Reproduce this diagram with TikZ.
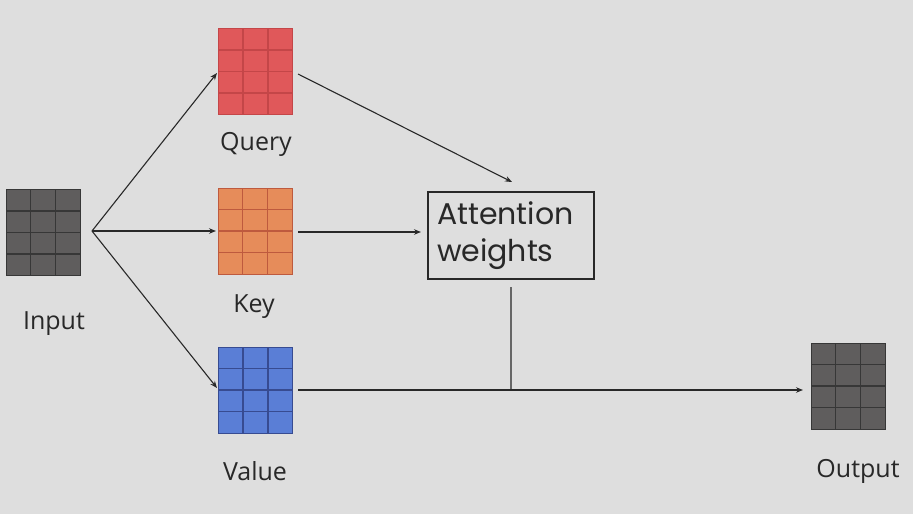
\documentclass[tikz,border=0pt]{standalone}
\usepackage{fontspec}
\setmainfont{Open Sans}
\newfontfamily\boxfont{Poppins}
\usetikzlibrary{calc,arrows.meta}
\definecolor{bg}{RGB}{222,222,222}
\definecolor{txt}{RGB}{40,40,40}
\definecolor{qfill}{RGB}{224,88,90}
\definecolor{qline}{RGB}{196,70,72}
\definecolor{kfill}{RGB}{230,140,90}
\definecolor{kline}{RGB}{190,90,62}
\definecolor{vfill}{RGB}{90,126,214}
\definecolor{vline}{RGB}{55,75,145}
\definecolor{gfill}{RGB}{95,93,93}
\definecolor{gline}{RGB}{55,55,55}
\tikzset{
  mat/.style 2 args={fill=#1, draw=#2, line width=0.8pt, minimum width=74pt, minimum height=86pt, inner sep=0pt,
    path picture={
      \foreach \f in {0.333,0.667}
        \draw[#2, line width=1.3pt] ($(path picture bounding box.north west)!\f!(path picture bounding box.north east)$) -- ($(path picture bounding box.south west)!\f!(path picture bounding box.south east)$);
      \foreach \f in {0.25,0.5,0.75}
        \draw[#2, line width=1.3pt] ($(path picture bounding box.north west)!\f!(path picture bounding box.south west)$) -- ($(path picture bounding box.north east)!\f!(path picture bounding box.south east)$);
    }},
  lbl/.style={text=txt, font=\fontsize{25}{30}\selectfont, inner sep=0pt},
  conn/.style={draw=txt, line width=1.1pt},
  arr/.style={conn, -{Stealth[length=7pt,width=5.5pt]}},
}
\begin{document}
\begin{tikzpicture}[x=1pt,y=-1pt]
\fill[bg] (0,0) rectangle (913,514);
\useasboundingbox (0,0) rectangle (913,514);
% matrices
\node[mat={gfill}{gline}] (in) at (43,232.5) {};
\node[mat={qfill}{qline}] (q) at (255.5,71.5) {};
\node[mat={kfill}{kline}] (k) at (255,231) {};
\node[mat={vfill}{vline}] (v) at (255.5,390) {};
\node[mat={gfill}{gline}] (out) at (848,386) {};
% labels
\node[lbl] (lin) at (54,324) {Input};
\node[lbl] (lq) at (256,144) {Query};
\node[lbl] (lk) at (254,307) {Key};
\node[lbl] (lv) at (255,471) {Value};
\node[lbl] (lout) at (858,471) {Output};
% attention box
\node[draw=txt, line width=1.8pt, text width=148pt, minimum height=87pt, inner xsep=9pt, inner ysep=0pt, text=txt,
      font=\boxfont\fontsize{30}{37}\selectfont, align=left] (att) at (511,235.5) {Attention\\weights};
% connector end points
\coordinate (br) at (92,231);
\coordinate (qin) at (217,73);
\coordinate (kin) at (216,231);
\coordinate (vin) at (217,388);
\coordinate (qout) at (298,74);
\coordinate (attq) at (512,182);
\coordinate (kout) at (298,232);
\coordinate (attk) at (421,232);
\coordinate (vout) at (298,390);
\coordinate (outin) at (803,390);
\coordinate (atts) at (511,287);
\coordinate (j) at (511,390);
% connectors
\draw[arr] (br) -- (qin);
\draw[arr] (br) -- (kin);
\draw[arr] (br) -- (vin);
\draw[arr] (qout) -- (attq);
\draw[arr] (kout) -- (attk);
\draw[draw=gray!80!black, line width=1.3pt] (atts) -- (j);
\draw[arr] (vout) -- (outin);
\end{tikzpicture}
\end{document}
